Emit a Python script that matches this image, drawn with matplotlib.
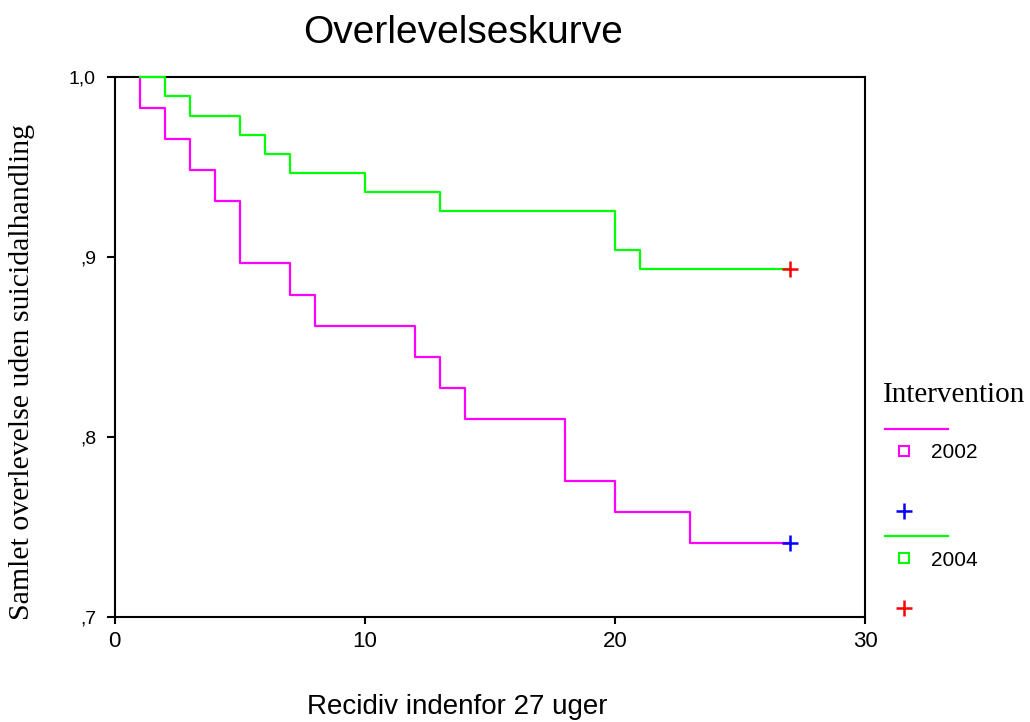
import matplotlib
matplotlib.use("Agg")
import matplotlib.pyplot as plt
from matplotlib.lines import Line2D

# Kaplan-Meier steps
weeks_2002 = [1, 1, 2, 3, 4, 5, 7, 8, 12, 13, 14, 18, 20, 23, 27]
surv_2002 = [1.0, 0.9828, 0.9655, 0.9483, 0.9310, 0.8966, 0.8793, 0.8621,
             0.8448, 0.8276, 0.8103, 0.7759, 0.7586, 0.7414, 0.7414]
weeks_2004 = [1, 2, 3, 5, 6, 7, 10, 13, 20, 21, 27]
surv_2004 = [1.0, 0.9894, 0.9787, 0.9681, 0.9574, 0.9468, 0.9362, 0.9255,
             0.9043, 0.8936, 0.8936]
censor_week = 27

x_ticks = [0, 10, 20, 30]
y_ticks = [0.7, 0.8, 0.9, 1.0]
y_tick_labels = [",7", ",8", ",9", "1,0"]
groups = ["2002", "2004"]

W, H = 1030, 722
SANS = "Liberation Sans"
SERIF = "Liberation Serif"

fig = plt.figure(figsize=(W / 100, H / 100), dpi=100)
ax = fig.add_axes([114.7 / W, 1 - 617.3 / H, (865 - 114.7) / W, (617.3 - 77.3) / H])

ax.step(weeks_2002, surv_2002, where="post", color="#ff00ff", lw=1.6, zorder=3, clip_on=False)
ax.step(weeks_2004, surv_2004, where="post", color="#00ff00", lw=1.6, zorder=3, clip_on=False)
ax.plot([censor_week], [surv_2002[-1]], "+", color="#0000ff", ms=11, mew=1.8, zorder=4)
ax.plot([censor_week], [surv_2004[-1]], "+", color="#ff0000", ms=11, mew=1.8, zorder=4)

ax.set_xlim(0, 30)
ax.set_ylim(0.7, 1.0)
ax.set_xticks(x_ticks)
ax.set_xticklabels([str(t) for t in x_ticks], fontfamily=SANS, fontsize=16)
ax.set_yticks(y_ticks)
ax.set_yticklabels(y_tick_labels, fontfamily=SANS, fontsize=14)
ax.tick_params(direction="out", width=1.5)
ax.tick_params(axis="x", length=5, pad=5)
ax.tick_params(axis="y", length=5.5, pad=8)
for sp in ax.spines.values():
    sp.set_linewidth(1.5)

fig.text(463 / W, 1 - 33 / H, "Overlevelseskurve", ha="center", va="center",
         fontfamily=SANS, fontsize=28)
fig.text(457 / W, 1 - 707 / H, "Recidiv indenfor 27 uger", ha="center", va="center",
         fontfamily=SANS, fontsize=20)
fig.text(22 / W, 1 - 372 / H, "Samlet overlevelse uden suicidalhandling", ha="center",
         va="center", rotation=90, fontfamily=SERIF, fontsize=21.5)


def px(x, y):
    return x / W, 1 - y / H


# legend, drawn by hand in figure pixels
fig.text(*px(883, 395), "Intervention", ha="left", va="center", fontfamily=SERIF, fontsize=21)
legend_rows = [
    ("#ff00ff", "#0000ff", 429, 451, 511),
    ("#00ff00", "#ff0000", 536, 558, 608),
]
for name, (col, cens, y_line, y_sq, y_plus) in zip(groups, legend_rows):
    fig.add_artist(Line2D([885 / W, 948 / W], [1 - y_line / H] * 2, color=col, lw=1.6))
    fig.add_artist(Line2D([904 / W], [1 - y_sq / H], marker="s", ms=6.5, mfc="white",
                          mec=col, mew=1.5, ls="none"))
    fig.text(*px(931, y_sq + 2), name, ha="left", va="center", fontfamily=SANS, fontsize=15)
    fig.add_artist(Line2D([904 / W], [1 - y_plus / H], marker="+", ms=11, mec=cens,
                          mew=1.8, ls="none"))

fig.savefig("out.png", dpi=100)
